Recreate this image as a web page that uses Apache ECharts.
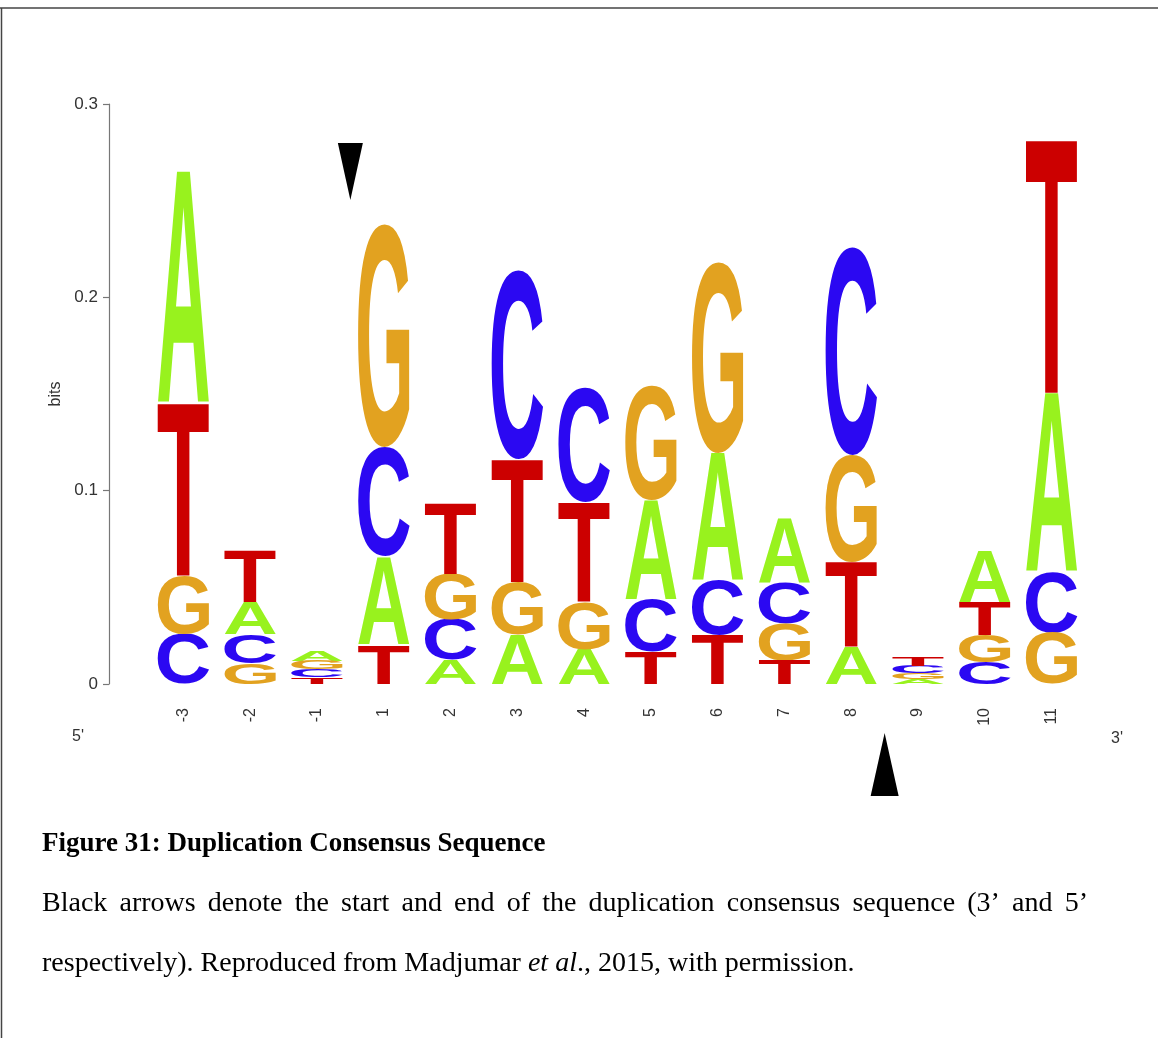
<!DOCTYPE html>
<html>
<head>
<meta charset="utf-8">
<title>Duplication Consensus Sequence</title>
<script src="https://cdn.jsdelivr.net/npm/echarts@6/dist/echarts.min.js"></script>
<style>
html, body { margin: 0; padding: 0; background: #fff; }
#logo { width: 1158px; height: 1038px; }
</style>
</head>
<body>
<div id="logo"></div>
<script>
// positions of the consensus (no position 0)
var positions = ['-3', '-2', '-1', '1', '2', '3', '4', '5', '6', '7', '8', '9', '10', '11'];
// letter heights in bits
var bitsA = [0.1200, 0.0166, 0.0055, 0.0455, 0.0124, 0.0253, 0.0176, 0.0517, 0.0657, 0.0336, 0.0191, 0.0025, 0.0269, 0.0926];
var bitsC = [0.0259, 0.0150, 0.0040, 0.0569, 0.0207, 0.0978, 0.0595, 0.0269, 0.0285, 0.0212, 0.1076, 0.0040, 0.0114, 0.0316];
var bitsG = [0.0300, 0.0109, 0.0045, 0.1154, 0.0238, 0.0274, 0.0248, 0.0595, 0.0988, 0.0191, 0.0553, 0.0030, 0.0140, 0.0264];
var bitsT = [0.0894, 0.0264, 0.0035, 0.0202, 0.0367, 0.0636, 0.0517, 0.0166, 0.0253, 0.0124, 0.0440, 0.0045, 0.0170, 0.1314];
var yTicks = [0, 0.1, 0.2, 0.3];
// black arrows sit between these two positions
var arrowMarks = [['-1', '1', 'down'], ['8', '9', 'up']];

var captionTitle = 'Figure 31: Duplication Consensus Sequence';
var captionLine1 = 'Black arrows denote the start and end of the duplication consensus sequence (3\u2019 and 5\u2019';

var bases = ['A', 'C', 'G', 'T'];
var baseColors = { A: '#98f21e', C: '#2b08f2', G: '#e2a220', T: '#cc0000' };
var bitsByBase = { A: bitsA, C: bitsC, G: bitsG, T: bitsT };

// stack each column smallest letter at the bottom
var stackData = { A: [], C: [], G: [], T: [] };
positions.forEach(function (p, i) {
    var col = bases.map(function (b) { return [b, bitsByBase[b][i]]; });
    col.sort(function (a, b) { return a[1] - b[1]; });
    var y = 0;
    col.forEach(function (c) {
        stackData[c[0]].push([i, y, y + c[1]]);
        y += c[1];
    });
});

// measure ink box of every glyph so it can be stretched to its cell
var glyphFont = 'bold 200px "Liberation Sans", Arial, sans-serif';
var ctx = document.createElement('canvas').getContext('2d');
ctx.font = glyphFont;
ctx.textAlign = 'center';
ctx.textBaseline = 'middle';
var ink = {};
bases.forEach(function (b) {
    var m = ctx.measureText(b);
    ink[b] = {
        l: m.actualBoundingBoxLeft, r: m.actualBoundingBoxRight,
        a: m.actualBoundingBoxAscent, d: m.actualBoundingBoxDescent
    };
});

function letterRenderer(base) {
    return function (params, api) {
        var i = api.value(0);
        var bot = api.coord([i, api.value(1)]);
        var top = api.coord([i, api.value(2)]);
        var w = api.size([1, 0])[0] * 0.77;
        var h = bot[1] - top[1];
        var g = ink[base];
        var sx = w / (g.l + g.r);
        var sy = h / (g.a + g.d);
        return {
            type: 'text',
            x: bot[0] - w / 2 + g.l * sx,
            y: top[1] + g.a * sy,
            scaleX: sx,
            scaleY: sy,
            style: {
                text: base, x: 0, y: 0,
                font: glyphFont,
                fill: baseColors[base],
                align: 'center',
                verticalAlign: 'middle'
            }
        };
    };
}

var series = bases.map(function (b) {
    return {
        name: b,
        type: 'custom',
        silent: true,
        clip: false,
        renderItem: letterRenderer(b),
        data: stackData[b]
    };
});

series.push({
    name: 'arrows',
    type: 'custom',
    silent: true,
    clip: false,
    data: arrowMarks.map(function (m) {
        return [positions.indexOf(m[0]), positions.indexOf(m[1]), m[2] === 'down' ? 1 : 0];
    }),
    renderItem: function (params, api) {
        var a = api.coord([api.value(0), 0]);
        var b = api.coord([api.value(1), 0]);
        var cx = (a[0] + b[0]) / 2;
        var pts;
        if (api.value(2) === 1) {
            var yTop = api.coord([api.value(0), yTicks[yTicks.length - 1]])[1] + 39;
            pts = [[cx - 12.5, yTop], [cx + 12.5, yTop], [cx, yTop + 57]];
        } else {
            var yTip = a[1] + 49;
            pts = [[cx, yTip], [cx + 14, yTip + 63], [cx - 14, yTip + 63]];
        }
        return { type: 'polygon', shape: { points: pts }, style: { fill: '#000' } };
    }
});

// caption: the wrapped line is justified between the margins
var serif = '"Liberation Serif", "Times New Roman", serif';
var bodyFont = '28px ' + serif;
var captionLeft = 42, captionRight = 1088;
ctx.font = bodyFont;
var words = captionLine1.split(' ');
var wordW = words.map(function (w) { return ctx.measureText(w).width; });
var gap = (captionRight - captionLeft - wordW.reduce(function (s, v) { return s + v; }, 0)) / (words.length - 1);
var justified = [];
var cursor = captionLeft;
words.forEach(function (w, k) {
    justified.push({ type: 'text', x: cursor, y: 890, style: { text: w, font: bodyFont, fill: '#000' } });
    cursor += wordW[k] + gap;
});

var myChart = echarts.init(document.getElementById('logo'));
var option = {
    backgroundColor: '#fff',
    animation: false,
    grid: { left: 150, right: 73, top: 104, bottom: 354, outerBoundsMode: 'none' },
    xAxis: {
        type: 'category',
        data: positions,
        axisLine: { show: false },
        axisTick: { show: false },
        splitLine: { show: false },
        axisLabel: {
            rotate: 90, margin: 24, fontSize: 16, color: '#333',
            fontFamily: '"Liberation Sans", Arial, sans-serif'
        }
    },
    yAxis: {
        type: 'value',
        min: yTicks[0],
        max: yTicks[yTicks.length - 1],
        interval: 0.1,
        offset: 41,
        name: 'bits',
        nameLocation: 'middle',
        nameGap: 41,
        nameTextStyle: { fontSize: 16, color: '#333', fontFamily: '"Liberation Sans", Arial, sans-serif' },
        axisLine: { show: true, lineStyle: { color: '#777', width: 1.2 } },
        axisTick: { show: true, length: 6, lineStyle: { color: '#777', width: 1.2 } },
        splitLine: { show: false },
        axisLabel: {
            margin: 11, fontSize: 17, color: '#333',
            fontFamily: '"Liberation Sans", Arial, sans-serif'
        }
    },
    graphic: [
        // page frame
        { type: 'line', shape: { x1: 0, y1: 8, x2: 1158, y2: 8 }, style: { stroke: '#444', lineWidth: 1.5 } },
        { type: 'line', shape: { x1: 1.5, y1: 8, x2: 1.5, y2: 1038 }, style: { stroke: '#444', lineWidth: 1.5 } },
        // strand ends
        { type: 'text', left: 72, top: 729, style: { text: "5'", font: '16px "Liberation Sans", Arial', fill: '#333' } },
        { type: 'text', left: 1111, top: 731, style: { text: "3'", font: '16px "Liberation Sans", Arial', fill: '#333' } },
        // caption
        {
            type: 'text', left: captionLeft, top: 831,
            style: { text: captionTitle, font: 'bold 27px ' + serif, fill: '#000' }
        },
        {
            type: 'text', left: captionLeft, top: 950,
            style: {
                text: '{n|respectively). Reproduced from Madjumar }{i|et al}{n|., 2015, with permission.}',
                rich: {
                    n: { font: bodyFont, fill: '#000' },
                    i: { font: 'italic ' + bodyFont, fill: '#000' }
                }
            }
        }
    ].concat(justified),
    series: series
};
myChart.setOption(option);
window.addEventListener('resize', function () {
    myChart.resize();
});
</script>
</body>
</html>
